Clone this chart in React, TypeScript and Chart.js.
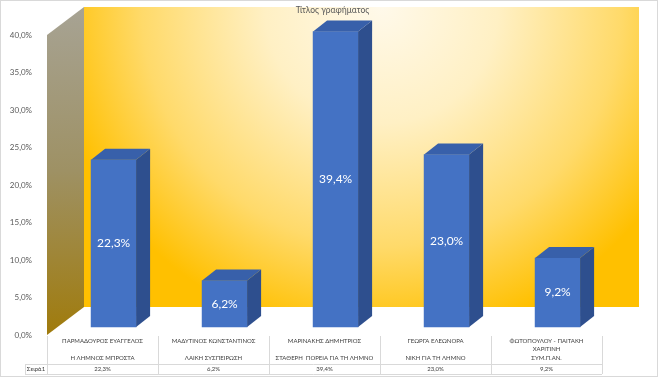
import React, { useEffect, useRef } from "react";
import { Chart, registerables } from "chart.js";

Chart.register(...registerables);

// ---- data ----
const candidates: string[][] = [
  ["ΠΑΡΜΑΔΟΥΡΟΣ ΕΥΑΓΓΕΛΟΣ"],
  ["ΜΑΔΥΤΙΝΟΣ ΚΩΝΣΤΑΝΤΙΝΟΣ"],
  ["ΜΑΡΙΝΑΚΗΣ ΔΗΜΗΤΡΙΟΣ"],
  ["ΓΕΩΡΓΑ ΕΛΕΩΝΟΡΑ"],
  ["ΦΩΤΟΠΟΥΛΟΥ - ΠΑΙΤΑΚΗ", "ΧΑΡΙΤΙΝΗ"],
];
const parties: string[] = [
  "Η ΛΗΜΝΟΣ ΜΠΡΟΣΤΑ",
  "ΛΑΙΚΗ ΣΥΣΠΕΙΡΩΣΗ",
  "ΣΤΑΘΕΡΗ  ΠΟΡΕΙΑ ΓΙΑ ΤΗ ΛΗΜΝΟ",
  "ΝΙΚΗ ΓΙΑ ΤΗ ΛΗΜΝΟ",
  "ΣΥΜ.Π.ΑΝ.",
];
const seriesName = "Σειρά1";
const values: number[] = [22.3, 6.2, 39.4, 23.0, 9.2];
const yMin = 0;
const yMax = 40;
const yStep = 5;
const chartTitle = "Τίτλος γραφήματος";

// ---- style constants ----
const W = 665;
const H = 377;
const FONT = "Lato, 'Noto Sans', sans-serif";
const WALL_DX = 37;
const WALL_DY = 28;
const BAR_DX = 14;
const BAR_DY = 11;
const FLOOR_PX = 8; // bars' base sits this far above the front axis baseline
const BAR_SHIFT = 0.1; // bars sit right of column centre (in category units)
const BAR_W = 45;

const fmt = (v: number) => v.toFixed(1).replace(".", ",") + "%";

const threeD = {
  id: "threeD",
  beforeDatasetsDraw(chart: any) {
    const { ctx, chartArea: a } = chart;
    ctx.save();
    // back wall
    const bx0 = a.left + WALL_DX;
    const by0 = a.top - WALL_DY;
    const bx1 = a.right + WALL_DX;
    const by1 = a.bottom - WALL_DY;
    const cx = (bx0 + bx1) / 2 + 20;
    const g = ctx.createRadialGradient(cx, by0, 0, cx, by0, (bx1 - bx0) * 0.6);
    g.addColorStop(0, "#FFF9EA");
    g.addColorStop(0.35, "#FFF0C4");
    g.addColorStop(0.72, "#FFDA6A");
    g.addColorStop(1, "#FFC000");
    ctx.fillStyle = g;
    ctx.fillRect(bx0, by0, bx1 - bx0, by1 - by0);
    // left wall
    const lg = ctx.createLinearGradient(0, a.top - WALL_DY, 0, a.bottom);
    lg.addColorStop(0, "#A7A394");
    lg.addColorStop(0.5, "#9E9164");
    lg.addColorStop(1, "#A07B0C");
    ctx.fillStyle = lg;
    ctx.beginPath();
    ctx.moveTo(a.left, a.top);
    ctx.lineTo(a.left + WALL_DX, a.top - WALL_DY);
    ctx.lineTo(a.left + WALL_DX, a.bottom - WALL_DY);
    ctx.lineTo(a.left, a.bottom);
    ctx.closePath();
    ctx.fill();
    ctx.restore();
  },
  afterDatasetsDraw(chart: any) {
    const { ctx, chartArea: a } = chart;
    const meta = chart.getDatasetMeta(0);
    ctx.save();
    meta.data.forEach((bar: any, i: number) => {
      const { x, y, base, width } = bar.getProps(["x", "y", "base", "width"], true);
      const l = x - width / 2;
      const r = x + width / 2;
      // side
      ctx.fillStyle = "#2E4F8E";
      ctx.beginPath();
      ctx.moveTo(r, y);
      ctx.lineTo(r + BAR_DX, y - BAR_DY);
      ctx.lineTo(r + BAR_DX, base - BAR_DY);
      ctx.lineTo(r, base);
      ctx.closePath();
      ctx.fill();
      // top
      ctx.fillStyle = "#3860AA";
      ctx.beginPath();
      ctx.moveTo(l, y);
      ctx.lineTo(l + BAR_DX, y - BAR_DY);
      ctx.lineTo(r + BAR_DX, y - BAR_DY);
      ctx.lineTo(r, y);
      ctx.closePath();
      ctx.fill();
      // label
      ctx.fillStyle = "#FFFFFF";
      ctx.font = `12px ${FONT}`;
      ctx.textAlign = "center";
      ctx.textBaseline = "middle";
      ctx.fillText(fmt(values[i]), x, (y + base) / 2);
    });

    // data table
    const xs = chart.scales.x;
    const n = candidates.length;
    const colW = (a.right - a.left) / n;
    const tTop = a.bottom + 1;
    const rowY = a.bottom + 29;
    const tBot = a.bottom + 39;
    const leftHead = a.left - 22;
    ctx.strokeStyle = "#D9D9D9";
    ctx.lineWidth = 1;
    ctx.beginPath();
    for (let i = 0; i <= n; i++) {
      const lx = Math.round(a.left + i * colW) + 0.5;
      ctx.moveTo(lx, tTop);
      ctx.lineTo(lx, tBot);
    }
    ctx.moveTo(leftHead + 0.5, rowY);
    ctx.lineTo(leftHead + 0.5, tBot);
    ctx.moveTo(leftHead, rowY + 0.5);
    ctx.lineTo(a.right, rowY + 0.5);
    ctx.moveTo(leftHead, tBot + 0.5);
    ctx.lineTo(a.right, tBot + 0.5);
    ctx.stroke();

    ctx.fillStyle = "#404040";
    ctx.font = `6px ${FONT}`;
    ctx.textAlign = "center";
    ctx.textBaseline = "middle";
    for (let i = 0; i < n; i++) {
      const cx = xs.getPixelForValue(i);
      const lines = candidates[i];
      lines.forEach((t, k) => ctx.fillText(t, cx, a.bottom + 6 + k * 8.5));
      ctx.fillText(parties[i], cx, a.bottom + 23.5);
      ctx.fillText(fmt(values[i]), cx, a.bottom + 34);
    }
    ctx.fillText(seriesName, (leftHead + a.left) / 2, a.bottom + 34);

    // title
    ctx.fillStyle = "#595959";
    ctx.font = `8.5px ${FONT}`;
    ctx.fillText(chartTitle, chart.width / 2, a.top - 25);

    // outer border
    ctx.strokeStyle = "#D9D9D9";
    ctx.strokeRect(0.5, 0.5, chart.width - 8, chart.height - 1);
    ctx.restore();
  },
};

export default function App() {
  const ref = useRef<HTMLCanvasElement | null>(null);
  useEffect(() => {
    if (!ref.current) return;
    const chart = new Chart(ref.current, {
      type: "bar",
      data: {
        datasets: [
          {
            label: seriesName,
            data: values.map((v, i) => ({ x: i, y: v })),
            xAxisID: "xb",
            yAxisID: "yb",
            backgroundColor: "#4472C4",
            borderWidth: 0,
            barThickness: BAR_W,
            clip: false as any,
          },
        ],
      },
      options: {
        responsive: false,
        animation: false,
        layout: { padding: { left: 0, right: 63, top: 35, bottom: 42 } },
        plugins: {
          legend: { display: false },
          tooltip: { enabled: false },
          title: { display: false },
        },
        scales: {
          x: {
            type: "category",
            labels: candidates.map((c) => c.join(" ")),
            display: false,
            offset: true,
          },
          xb: {
            type: "linear",
            display: false,
            offset: false,
            min: -0.5 - BAR_SHIFT,
            max: candidates.length - 0.5 - BAR_SHIFT,
          },
          y: {
            type: "linear",
            position: "left",
            min: yMin,
            max: yMax,
            afterFit: (s: any) => {
              s.width = 47;
            },
            ticks: {
              stepSize: yStep,
              padding: 7,
              color: "#595959",
              font: { family: FONT, size: 8 },
              callback: (v: any) => fmt(Number(v)),
            },
            grid: { display: false },
            border: { display: false },
          },
          yb: {
            type: "linear",
            display: false,
            min: yMin - FLOOR_PX / 7.5,
            max: yMax - FLOOR_PX / 7.5,
          },
        },
      } as any,
      plugins: [threeD],
    });
    return () => chart.destroy();
  }, []);
  return (
    <div style={{ position: "absolute", left: 0, top: 0, width: W, height: H, background: "#fff" }}>
      <canvas ref={ref} width={W} height={H} />
    </div>
  );
}
